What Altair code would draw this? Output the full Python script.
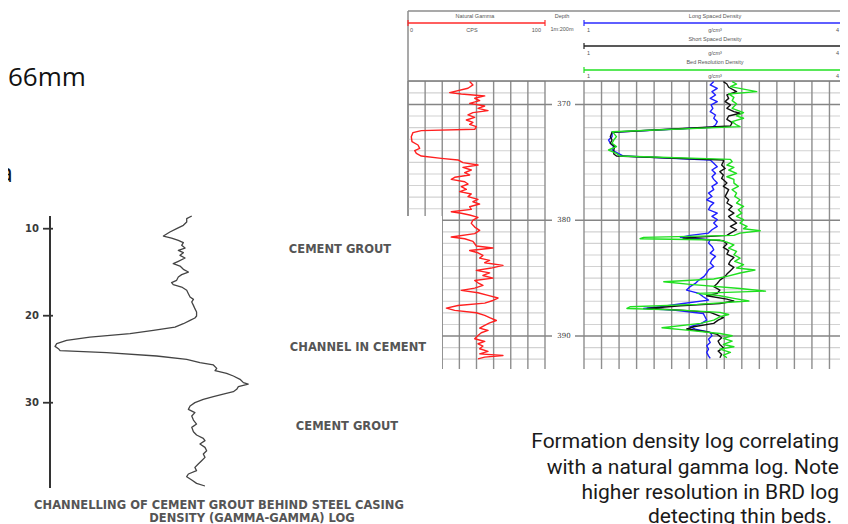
import altair as alt
import pandas as pd

# ---------------- data ----------------
# Natural gamma log (depth in m, CPS)
GAMMA_DEPTH = [368.02, 368.31, 368.60, 368.97, 369.09, 369.26, 369.46, 369.67, 369.90, 370.13,
               370.33, 370.53, 370.70, 370.90, 371.11, 371.34, 371.54, 371.71, 371.91, 372.14,
               372.26, 372.43, 372.78, 373.21, 373.50, 373.79, 373.99, 374.22, 374.45, 374.65,
               374.79, 375.02, 375.23, 375.43, 375.66, 375.89, 376.09, 376.29, 376.47, 376.67,
               376.87, 377.10, 377.33, 377.53, 377.73, 377.96, 378.19, 378.40, 378.60, 378.83,
               379.06, 379.26, 379.40, 379.55, 379.75, 379.98, 380.27, 380.59, 380.88, 381.16,
               381.45, 381.60, 381.83, 382.03, 382.23, 382.40, 382.61, 382.81, 383.04, 383.27,
               383.47, 383.67, 383.90, 384.13, 384.33, 384.55, 384.77, 385.00, 385.20, 385.40,
               385.63, 385.86, 386.06, 386.26, 386.49, 386.72, 386.93, 387.16, 387.36, 387.59,
               387.79, 387.99, 388.22, 388.42, 388.66, 388.86, 389.09, 389.32, 389.52, 389.72,
               389.95, 390.24, 390.47, 390.67, 390.87, 391.10, 391.33, 391.54, 391.68, 391.82,
               391.97]
GAMMA_CPS = [45.0, 47.4, 43.8, 30.4, 38.9, 56.0, 48.7, 52.3, 45.0, 56.0,
             51.1, 58.4, 47.4, 43.8, 48.7, 42.6, 47.4, 45.0, 49.9, 48.7,
             9.7, 3.6, 2.4, 2.9, 7.3, 8.5, 4.9, 6.1, 9.7, 24.3,
             36.5, 40.1, 51.1, 40.1, 46.2, 41.4, 45.0, 34.1, 31.6, 41.4,
             43.8, 38.9, 42.6, 37.7, 46.2, 43.8, 51.1, 47.4, 52.3, 45.0,
             46.2, 31.6, 38.9, 45.0, 51.1, 47.4, 46.2, 48.7, 52.3, 48.7,
             31.6, 41.4, 47.4, 48.7, 49.9, 62.0, 45.0, 51.1, 54.7, 52.3,
             59.6, 56.0, 69.3, 60.8, 49.9, 59.6, 54.7, 62.0, 48.7, 51.1,
             54.7, 48.7, 38.9, 51.1, 58.4, 65.7, 62.0, 56.0, 36.5, 28.0,
             34.1, 49.9, 56.0, 59.6, 64.5, 59.6, 56.0, 52.3, 58.4, 53.5,
             51.1, 48.7, 56.0, 51.1, 54.7, 52.3, 58.4, 52.3, 69.3, 56.0,
             51.1]

# Long spaced density (g/cm3)
LSD_DEPTH = [368.02, 368.31, 368.60, 368.89, 369.18, 369.47, 369.75, 370.04, 370.33, 370.62,
             370.91, 371.19, 371.48, 371.77, 371.97, 372.40, 372.78, 373.07, 373.35, 373.64,
             373.93, 374.22, 374.45, 374.79, 375.08, 375.37, 375.66, 375.95, 376.24, 376.47,
             376.79, 377.07, 377.36, 377.65, 377.94, 378.23, 378.51, 378.80, 379.09, 379.38,
             379.67, 379.95, 380.24, 380.53, 380.82, 381.11, 381.31, 381.48, 381.68, 381.97,
             382.26, 382.55, 382.84, 383.12, 383.41, 383.70, 383.99, 384.28, 384.56, 384.85,
             385.17, 385.46, 385.74, 386.03, 386.32, 386.61, 386.90, 387.19, 387.47, 387.62,
             387.76, 388.05, 388.34, 388.63, 388.91, 389.20, 389.40, 389.69, 389.98, 390.27,
             390.56, 390.84, 391.13, 391.42, 391.71, 391.94]
LSD = [2.48, 2.44, 2.52, 2.46, 2.50, 2.44, 2.52, 2.45, 2.47, 2.44,
       2.50, 2.48, 2.52, 2.50, 2.46, 1.32, 1.32, 1.28, 1.30, 1.34,
       1.32, 1.39, 1.45, 2.44, 2.48, 2.52, 2.46, 2.50, 2.46, 2.48,
       2.52, 2.46, 2.48, 2.42, 2.46, 2.40, 2.48, 2.44, 2.42, 2.52,
       2.46, 2.52, 2.48, 2.52, 2.46, 2.42, 2.21, 2.10, 2.44, 2.42,
       2.46, 2.48, 2.44, 2.50, 2.46, 2.44, 2.48, 2.42, 2.40, 2.37,
       2.31, 2.27, 2.21, 2.17, 2.31, 2.36, 2.42, 2.13, 1.87, 1.68,
       2.02, 2.36, 2.38, 2.40, 2.34, 2.21, 2.27, 2.44, 2.46, 2.42,
       2.44, 2.40, 2.42, 2.40, 2.42, 2.44]

# Short spaced density (g/cm3)
SSD_DEPTH = [368.02, 368.23, 368.51, 368.89, 369.18, 369.47, 369.75, 370.04, 370.33, 370.62,
             370.76, 370.99, 371.28, 371.57, 371.86, 372.40, 372.78, 373.07, 373.35, 373.64,
             373.93, 374.28, 374.45, 374.79, 374.94, 375.23, 375.52, 375.80, 376.09, 376.38,
             376.50, 376.79, 377.07, 377.36, 377.65, 377.94, 378.23, 378.51, 378.80, 379.09,
             379.38, 379.67, 379.95, 380.24, 380.53, 380.82, 381.11, 381.31, 381.54, 381.77,
             382.06, 382.35, 382.63, 382.92, 383.21, 383.50, 383.79, 384.07, 384.36, 384.65,
             384.85, 385.17, 385.46, 385.74, 386.03, 386.32, 386.52, 386.81, 386.98, 387.19,
             387.39, 387.62, 387.76, 387.96, 388.19, 388.42, 388.63, 388.91, 389.20, 389.40,
             389.63, 389.86, 390.15, 390.44, 390.73, 391.02, 391.30, 391.59, 391.88]
SSD = [2.59, 2.63, 2.65, 2.74, 2.63, 2.65, 2.61, 2.67, 2.63, 2.71,
       2.78, 2.65, 2.63, 2.69, 2.67, 1.32, 1.30, 1.32, 1.30, 1.35,
       1.34, 1.34, 1.37, 2.59, 2.59, 2.57, 2.61, 2.55, 2.59, 2.57,
       2.59, 2.63, 2.59, 2.65, 2.63, 2.61, 2.65, 2.63, 2.69, 2.65,
       2.71, 2.65, 2.69, 2.74, 2.67, 2.74, 2.67, 2.63, 2.13, 2.59,
       2.63, 2.59, 2.65, 2.63, 2.71, 2.67, 2.65, 2.71, 2.67, 2.63,
       2.61, 2.55, 2.52, 2.48, 2.55, 2.52, 2.40, 2.63, 2.71, 2.55,
       2.10, 1.72, 2.10, 2.44, 2.52, 2.59, 2.53, 2.48, 2.25, 2.17,
       2.40, 2.52, 2.57, 2.53, 2.55, 2.59, 2.53, 2.57, 2.55]

# Bed resolution density (g/cm3)
BRD_DEPTH = [368.02, 368.23, 368.46, 368.89, 369.09, 369.38, 369.67, 369.95, 370.33, 370.70,
             370.99, 371.19, 371.48, 371.77, 371.91, 372.35, 372.49, 372.78, 373.07, 373.35,
             373.64, 373.93, 374.22, 374.45, 374.74, 374.94, 375.23, 375.43, 375.66, 375.95,
             376.24, 376.47, 376.79, 377.07, 377.36, 377.65, 377.94, 378.23, 378.51, 378.80,
             379.09, 379.38, 379.67, 379.95, 380.24, 380.53, 380.73, 380.91, 381.11, 381.31,
             381.48, 381.60, 381.71, 381.89, 382.12, 382.40, 382.69, 382.98, 383.27, 383.56,
             383.84, 384.13, 384.30, 384.56, 384.85, 385.08, 385.31, 385.54, 385.89, 386.12,
             386.32, 386.52, 386.75, 386.98, 387.27, 387.47, 387.62, 387.76, 387.96, 388.14,
             388.34, 388.63, 388.91, 389.29, 389.49, 389.78, 389.98, 390.21, 390.44, 390.73,
             390.93, 391.13, 391.42, 391.65, 391.88]
BRD = [2.69, 2.74, 2.67, 2.97, 2.65, 2.71, 2.69, 2.74, 2.69, 2.82,
       2.74, 2.82, 2.69, 2.74, 2.78, 1.32, 1.34, 1.37, 1.34, 1.32,
       1.37, 1.28, 1.37, 1.41, 2.67, 2.69, 2.63, 2.71, 2.65, 2.74,
       2.63, 2.71, 2.71, 2.76, 2.69, 2.74, 2.72, 2.78, 2.74, 2.82,
       2.76, 2.80, 2.74, 2.82, 2.78, 2.86, 2.82, 3.01, 2.78, 2.71,
       1.68, 1.64, 2.55, 2.63, 2.71, 2.65, 2.74, 2.71, 2.78, 2.72,
       2.82, 2.74, 2.95, 2.78, 2.63, 2.48, 1.91, 2.21, 2.78, 3.07,
       2.29, 2.55, 2.71, 2.88, 2.29, 1.53, 1.49, 2.10, 2.55, 2.65,
       2.55, 2.48, 2.33, 1.89, 2.17, 2.55, 2.69, 2.59, 2.69, 2.59,
       2.71, 2.55, 2.67, 2.59, 2.63]

# Cement bond density (gamma-gamma) log, depth vs relative response
CEMENT_DEPTH = [8.54, 8.85, 9.23, 9.61, 10.00, 10.38, 10.84, 11.07, 11.34, 11.60,
                11.91, 12.22, 12.49, 12.75, 13.06, 13.37, 13.75, 14.02, 14.29, 14.67,
                14.98, 15.28, 15.55, 15.93, 16.20, 16.43, 16.70, 17.08, 17.47, 17.85,
                18.12, 18.42, 18.81, 19.19, 19.57, 20.03, 20.26, 20.53, 20.92, 21.30,
                21.68, 22.06, 22.45, 22.83, 23.21, 23.52, 23.79, 24.02, 24.25, 24.63,
                25.01, 25.40, 25.66, 26.05, 26.32, 26.62, 26.93, 27.31, 27.69, 27.85,
                28.15, 28.46, 28.73, 29.00, 29.30, 29.61, 29.99, 30.38, 30.76, 31.14,
                31.53, 31.99, 32.45, 32.83, 33.33, 33.71, 34.09, 34.36, 34.74, 35.13,
                35.51, 35.89, 36.28, 36.66, 37.04, 37.43, 37.81, 38.19, 38.50, 38.88,
                39.27, 39.57]
CEMENT_RESP = [67.5, 65.1, 65.1, 63.5, 60.3, 57.1, 54.0, 57.9, 61.1, 63.5,
               62.7, 64.3, 61.1, 63.5, 61.9, 64.3, 61.1, 58.7, 61.9, 63.5,
               65.9, 62.7, 61.1, 60.3, 57.9, 58.7, 62.7, 65.1, 65.9, 66.7,
               68.3, 67.5, 68.3, 69.0, 69.8, 69.8, 69.0, 66.7, 63.5, 59.5,
               49.2, 38.1, 19.0, 7.9, 3.2, 2.4, 4.0, 4.8, 27.0, 50.8,
               65.1, 71.4, 77.8, 79.4, 78.6, 84.1, 87.3, 90.5, 92.1, 94.4,
               89.7, 88.9, 87.3, 82.5, 77.8, 73.0, 69.0, 66.7, 65.9, 69.0,
               67.5, 68.3, 69.8, 67.5, 68.3, 69.8, 73.0, 73.8, 71.4, 73.8,
               74.6, 73.0, 73.8, 72.2, 70.6, 69.0, 69.8, 65.9, 65.1, 67.5,
               69.8, 73.8]

# grid / tick values
GAMMA_GRID = [0, 12.5, 25, 37.5, 50, 62.5, 75, 87.5, 100]
DENSITY_GRID = [1.0, 1.2, 1.4, 1.6, 1.8, 2.0, 2.2, 2.4, 2.6, 2.8, 3.0, 3.2, 3.4, 3.6, 3.8, 4.0]
DEPTH_MINOR = [368, 369, 371, 372, 373, 374, 375, 376, 377, 378, 379,
               381, 382, 383, 384, 385, 386, 387, 388, 389, 391, 392]
DEPTH_MAJOR = [370, 380, 390]
GAMMA_RANGE = [0, 100]
DENSITY_RANGE = [1, 4]
CEMENT_TICKS = [10, 20, 30]

# texts
HEADER_GAMMA = ["Natural Gamma", "0", "CPS", "100"]
HEADER_DEPTH = ["Depth", "1m:200m"]
DENSITY_TITLES = ["Long Spaced Density", "Short Spaced Density", "Bed Resolution Density"]
DENSITY_UNITS = ["1", "g/cm\u00b3", "4"]
CEMENT_NOTES = ["CEMENT GROUT", "CHANNEL IN CEMENT", "CEMENT GROUT"]
CEMENT_CAPTION = ["CHANNELLING OF CEMENT GROUT BEHIND STEEL CASING",
                  "DENSITY (GAMMA-GAMMA) LOG"]
SIDE_TEXT = ["Formation density log correlating",
             "with a natural gamma log. Note",
             "higher resolution in BRD log",
             "detecting thin beds."]
SLIDE_TEXT = ["66mm", "a"]

# ---------------- scales ----------------
W, H = 832, 516
gx = alt.Scale(domain=[0, 100], range=[400, 537], nice=False, zero=False)
dxs = alt.Scale(domain=[1, 4], range=[576, 839], nice=False, zero=False)
ly = alt.Scale(domain=[367.97, 392.85], range=[73, 361], nice=False, zero=False)
cx = alt.Scale(domain=[0, 100], range=[42, 252], nice=False, zero=False)
cy = alt.Scale(domain=[8.54, 39.8], range=[208, 480], nice=False, zero=False)

layers = []


def curve(depth, vals, xs, ys, color, width):
    df = pd.DataFrame({"i": list(range(len(depth))), "depth": depth, "val": vals})
    return alt.Chart(df).mark_line(color=color, strokeWidth=width, strokeJoin="round").encode(
        x=alt.X("val:Q", scale=xs, axis=None),
        y=alt.Y("depth:Q", scale=ys, axis=None),
        order=alt.Order("i:Q"),
    )


def label(text, x, y, size, color, align="center", weight="normal",
          font="Liberation Sans", baseline="middle"):
    df = pd.DataFrame({"t": [text]})
    return alt.Chart(df).mark_text(align=align, baseline=baseline, fontSize=size, font=font,
                                   fontWeight=weight, color=color).encode(
        text="t:N", x=alt.value(x), y=alt.value(y))


def hrule(x1, x2, y, color, width):
    df = pd.DataFrame({"k": [0]})
    return alt.Chart(df).mark_rule(color=color, strokeWidth=width).encode(
        x=alt.value(x1), x2=alt.value(x2), y=alt.value(y))


def vrule(x, y1, y2, color, width):
    df = pd.DataFrame({"k": [0]})
    return alt.Chart(df).mark_rule(color=color, strokeWidth=width).encode(
        x=alt.value(x), y=alt.value(y1), y2=alt.value(y2))


# ---------------- right log: header ----------------
layers.append(hrule(400, 832, 3, "#8c8c8c", 1.5))
layers.append(vrule(400, 3, 208, "#8c8c8c", 1.5))
hdr = "#555555"
hs = 5.5
layers.append(label(HEADER_GAMMA[0], 467, 8, hs, hdr))
layers.append(label(HEADER_GAMMA[1], 402, 22, hs, hdr, align="left"))
layers.append(label(HEADER_GAMMA[2], 464, 22, hs, hdr))
layers.append(label(HEADER_GAMMA[3], 533, 22, hs, hdr, align="right"))
layers.append(label(HEADER_DEPTH[0], 554, 8, hs, hdr))
layers.append(label(HEADER_DEPTH[1], 554, 21, hs, hdr))

# gamma scale bar
gdf = pd.DataFrame({"a": [GAMMA_RANGE[0]], "b": [GAMMA_RANGE[1]]})
layers.append(alt.Chart(gdf).mark_rule(color="#ff2a2a", strokeWidth=1.4).encode(
    x=alt.X("a:Q", scale=gx, axis=None), x2="b:Q", y=alt.value(15)))
layers.append(alt.Chart(pd.DataFrame({"v": GAMMA_RANGE})).mark_rule(color="#ff2a2a", strokeWidth=1.2).encode(
    x=alt.X("v:Q", scale=gx, axis=None), y=alt.value(12), y2=alt.value(18)))

bar_y = [15, 38, 62]
title_y = [8, 31, 54]
unit_y = [22, 45, 68]
bar_colors = ["#2a2aff", "#222222", "#22e022"]
for k in range(3):
    ddf = pd.DataFrame({"a": [DENSITY_RANGE[0]], "b": [DENSITY_RANGE[1]]})
    layers.append(alt.Chart(ddf).mark_rule(color=bar_colors[k], strokeWidth=1.4).encode(
        x=alt.X("a:Q", scale=dxs, axis=None), x2="b:Q", y=alt.value(bar_y[k])))
    layers.append(alt.Chart(pd.DataFrame({"v": DENSITY_RANGE})).mark_rule(
        color=bar_colors[k], strokeWidth=1.2).encode(
        x=alt.X("v:Q", scale=dxs, axis=None), y=alt.value(bar_y[k] - 3), y2=alt.value(bar_y[k] + 3)))
    layers.append(label(DENSITY_TITLES[k], 707, title_y[k], hs, hdr))
    layers.append(label(DENSITY_UNITS[0], 579, unit_y[k], hs, hdr, align="left"))
    layers.append(label(DENSITY_UNITS[1], 707, unit_y[k], hs, hdr))
    layers.append(label(DENSITY_UNITS[2], 831, unit_y[k], hs, hdr, align="right"))

# ---------------- right log: grid ----------------
layers.append(alt.Chart(pd.DataFrame({"d": DEPTH_MINOR})).mark_rule(color="#d2d2d2", strokeWidth=1.1).encode(
    y=alt.Y("d:Q", scale=ly, axis=None), x=alt.value(400), x2=alt.value(537)))
layers.append(alt.Chart(pd.DataFrame({"d": DEPTH_MINOR})).mark_rule(color="#d2d2d2", strokeWidth=1.1).encode(
    y=alt.Y("d:Q", scale=ly, axis=None), x=alt.value(576), x2=alt.value(832)))
layers.append(alt.Chart(pd.DataFrame({"v": GAMMA_GRID})).mark_rule(color="#8e8e8e", strokeWidth=1.4).encode(
    x=alt.X("v:Q", scale=gx, axis=None), y=alt.value(73), y2=alt.value(361)))
layers.append(alt.Chart(pd.DataFrame({"v": DENSITY_GRID})).mark_rule(color="#8e8e8e", strokeWidth=1.4).encode(
    x=alt.X("v:Q", scale=dxs, axis=None), y=alt.value(73), y2=alt.value(361)))
layers.append(alt.Chart(pd.DataFrame({"d": DEPTH_MAJOR})).mark_rule(color="#858585", strokeWidth=1.7).encode(
    y=alt.Y("d:Q", scale=ly, axis=None), x=alt.value(400), x2=alt.value(544)))
layers.append(alt.Chart(pd.DataFrame({"d": DEPTH_MAJOR})).mark_rule(color="#858585", strokeWidth=1.7).encode(
    y=alt.Y("d:Q", scale=ly, axis=None), x=alt.value(567), x2=alt.value(832)))
layers.append(hrule(400, 832, 73, "#7a7a7a", 1.4))
layers.append(alt.Chart(pd.DataFrame({"d": DEPTH_MAJOR})).mark_text(
    fontSize=7, font="DejaVu Serif", color="#333333", baseline="middle").encode(
    y=alt.Y("d:Q", scale=ly, axis=None), x=alt.value(556), text=alt.Text("d:Q", format="d")))

# ---------------- right log: curves ----------------
layers.append(curve(GAMMA_DEPTH, GAMMA_CPS, gx, ly, "#ff2020", 1.4))
layers.append(curve(LSD_DEPTH, LSD, dxs, ly, "#1f1fff", 1.4))
layers.append(curve(SSD_DEPTH, SSD, dxs, ly, "#111111", 1.4))
layers.append(curve(BRD_DEPTH, BRD, dxs, ly, "#1fe01f", 1.4))

# ---------------- left picture (cement log) ----------------
layers.append(alt.Chart(pd.DataFrame({"k": [0]})).mark_rect(color="white").encode(
    x=alt.value(0), x2=alt.value(434), y=alt.value(208), y2=alt.value(516)))
layers.append(vrule(42, 208, 480, "#333333", 2))
layers.append(alt.Chart(pd.DataFrame({"d": CEMENT_TICKS})).mark_rule(color="#333333", strokeWidth=1.8).encode(
    y=alt.Y("d:Q", scale=cy, axis=None), x=alt.value(35), x2=alt.value(45)))
layers.append(alt.Chart(pd.DataFrame({"d": CEMENT_TICKS})).mark_text(
    fontSize=10, font="DejaVu Sans", fontWeight="bold", color="#3a3a3a", align="right",
    baseline="middle").encode(
    y=alt.Y("d:Q", scale=cy, axis=None), x=alt.value(31), text=alt.Text("d:Q", format="d")))
layers.append(curve(CEMENT_DEPTH, CEMENT_RESP, cx, cy, "#444444", 1.3))

note_font = "DejaVu Sans"
layers.append(label(CEMENT_NOTES[0], 332, 242, 11.5, "#555555", weight="bold", font=note_font))
layers.append(label(CEMENT_NOTES[1], 350, 340, 11.5, "#555555", weight="bold", font=note_font))
layers.append(label(CEMENT_NOTES[2], 339, 419, 11.5, "#555555", weight="bold", font=note_font))
layers.append(label(CEMENT_CAPTION[0], 211, 498, 11.5, "#555555", weight="bold", font=note_font))
layers.append(label(CEMENT_CAPTION[1], 244, 511, 11.5, "#555555", weight="bold", font=note_font))

# ---------------- slide texts ----------------
layers.append(label(SLIDE_TEXT[0], 0, 78, 26, "#111111", align="left", font="Open Sans",
                    baseline="alphabetic"))
layers.append(label(SLIDE_TEXT[1], 5, 174, 26, "#111111", align="right", font="Open Sans",
                    baseline="alphabetic"))
side_y = [440, 466, 491, 515]
side_x = [831, 831, 831, 824]
for k in range(4):
    layers.append(label(SIDE_TEXT[k], side_x[k], side_y[k], 21, "#1a1a1a", align="right",
                        font="Roboto", baseline="alphabetic"))

chart = alt.layer(*layers).resolve_scale(x="independent", y="independent").properties(
    width=W, height=H, autosize=alt.AutoSizeParams(type="none"), padding=0,
    background="white",
).configure_view(strokeWidth=0)

chart.save("out.html", embed_options={"renderer": "svg", "actions": False})
